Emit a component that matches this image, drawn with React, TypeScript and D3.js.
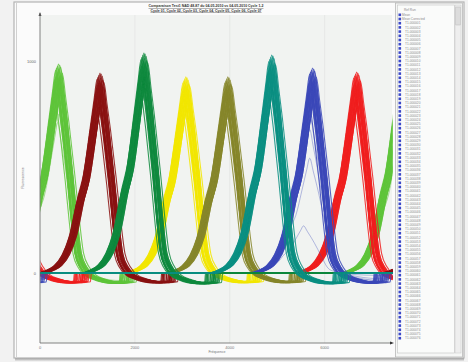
import React from "react";
import * as d3 from "d3";

const SERIES_NAMES = ["Cycle 01", "Cycle 02", "Cycle 03", "Cycle 04", "Cycle 05", "Cycle 06", "Cycle 07", "Cycle 08"];
const SERIES_COLORS = ["#5ec43a", "#8a1212", "#0f8a3e", "#f2e600", "#86862a", "#0b8f82", "#3b48b8", "#f01e1e"];
const PEAK_CENTERS = [390, 1265, 2190, 3075, 3960, 4885, 5745, 6675];
const PEAK_MAX = [986, 943, 1038, 925, 925, 1028, 967, 948];
const PERIOD = 7250;

// normalized peak profile: [offset, fraction of peak]
const PROFILE_LEFT: [number, number][] = [
  [-1263, 0], [-1050, 0.015], [-885, 0.04], [-716, 0.1], [-568, 0.2], [-400, 0.4], [-295, 0.5], [-147, 0.75], [-63, 0.9], [0, 1],
];
const PROFILE_RIGHT: [number, number][] = [
  [63, 0.88], [126, 0.75], [232, 0.5], [316, 0.28], [400, 0.1], [505, 0.03], [632, -0.01], [800, -0.03], [1010, -0.045], [1220, -0.05], [1390, -0.045], [1410, 0],
];

const TRACE_SCALE = [1.0, 0.995, 0.99, 0.985, 0.98, 0.975, 0.97, 0.965, 0.96, 0.955, 0.95, 0.945, 0.94, 0.935, 0.93, 0.925, 0.92, 0.915, 0.91, 0.9, 0.89, 0.88, 0.87, 0.86];
const TRACE_SHIFT = [0, 25, -20, 45, -40, 10, -60, 60, -10, 80, -30, 35, -50, 15, 70, -70, 5, -25, 50, -45, 20, -90, -15, 30];
const TRACE_WIDTH = [1.0, 1.04, 0.97, 1.08, 0.95, 1.02, 1.1, 0.98, 1.06, 1.12, 0.96, 1.03, 1.0, 1.07, 0.99, 1.05, 1.14, 0.97, 1.09, 1.01, 1.04, 1.0, 1.11, 1.06];

// extra thin inner traces per series: [scale, shift, width]
const INNER_TRACES: [number, number, number][][] = [
  [[0.72, -20, 1.1], [0.76, 10, 1.05], [0.8, 0, 1.0]],
  [[0.8, 0, 1.05], [0.83, -20, 1.1]],
  [[0.86, 0, 1.05], [0.89, 15, 1.0]],
  [],
  [[0.8, 0, 1.05], [0.84, -15, 1.1]],
  [[0.8, 0, 1.05], [0.84, 10, 1.1]],
  [[0.75, -40, 1.15], [0.7, -60, 1.2], [0.56, -60, 1.25], [0.23, -190, 1.3]],
  [[0.82, 0, 1.05], [0.86, -10, 1.1]],
];

const X_TICKS = [0, 2000, 4000, 6000];
const Y_TICKS = [0, 1000];
const TITLE_LINES = [
  "Comparaison Test1 NAD 48-87 du 04-05-2010 vs 04-05-2010 Cycle 1-2",
  "Cycle 01, Cycle 02, Cycle 03, Cycle 04, Cycle 05, Cycle 06, Cycle 07",
];
const LEGEND_HEADER = "Ref Run";
const LEGEND_ITEMS = ["Mean", "Mean Corrected", ...Array.from({ length: 76 }, (_, i) => "T1-" + String(i + 1).padStart(6, "0"))];

const W = 468, H = 362;
const PL = 40, PR = 392, PT = 15, PB = 343;

export default function App() {
  const x = d3.scaleLinear().domain([0, 7420]).range([PL, PR]);
  const y = d3.scaleLinear().domain([-330, 1217]).range([PB, PT]);
  const line = d3.line<[number, number]>().x((d) => x(d[0])).y((d) => y(d[1])).curve(d3.curveMonotoneX);

  const buildPath = (i: number, amp: number, shift: number, width: number) => {
    const pts: [number, number][] = [];
    for (const k of [-1, 0, 1]) {
      const c = PEAK_CENTERS[i] + k * PERIOD + shift;
      for (const [o, v] of PROFILE_LEFT) pts.push([c + o, v * amp]);
      for (const [o, v] of PROFILE_RIGHT) pts.push([c + o * width, v * amp]);
    }
    return line(pts) || "";
  };

  const drawOrder = [0, 3, 4, 7, 6, 1, 2, 5];

  return (
    <svg width={W} height={H} style={{ position: "absolute", left: 0, top: 0 }} fontFamily="Liberation Sans, Arial, sans-serif">
      <defs>
        <clipPath id="plotclip">
          <rect x={PL + 0.5} y={PT} width={PR - PL} height={PB - PT} />
        </clipPath>
        <linearGradient id="shadow" x1="0" x2="0" y1="0" y2="1">
          <stop offset="0" stopColor="#999" />
          <stop offset="1" stopColor="#e8e8e8" />
        </linearGradient>
      </defs>
      <rect x={0} y={0} width={W} height={H} fill="#f2f2f2" />
      <rect x={15} y={358} width={449} height={3} fill="url(#shadow)" />
      <rect x={14} y={2} width={450} height={356} fill="#fbfbfb" stroke="#b4b4b4" strokeWidth={1.2} />
      <line x1={16.5} x2={16.5} y1={3} y2={357} stroke="#d0d0d0" />
      <rect x={PL} y={PT} width={PR - PL} height={PB - PT} fill="#f1f3f1" />
      {X_TICKS.slice(1).map((t) => (
        <line key={"gx" + t} x1={x(t)} x2={x(t)} y1={PT} y2={PB} stroke="#e3e5e3" strokeWidth={0.8} />
      ))}
      <g clipPath="url(#plotclip)">
        {drawOrder.map((i) => (
          <g key={i} stroke={SERIES_COLORS[i]} fill="none">
            {TRACE_SCALE.map((s, j) => (
              <path key={j} d={buildPath(i, PEAK_MAX[i] * s, TRACE_SHIFT[j], TRACE_WIDTH[j])} strokeWidth={1.1} strokeOpacity={0.85} />
            ))}
            {INNER_TRACES[i].map(([s, sh, w], j) => (
              <path key={"in" + j} d={buildPath(i, PEAK_MAX[i] * s, sh, w)} strokeWidth={0.6} strokeOpacity={0.6} />
            ))}
          </g>
        ))}
      </g>
      {/* axes */}
      <line x1={PL} x2={PL} y1={PT - 2} y2={PB} stroke="#666" strokeWidth={0.8} />
      <path d={`M${PL - 1.5},${PT + 1} L${PL},${PT - 3} L${PL + 1.5},${PT + 1}Z`} fill="#555" />
      <line x1={PL} x2={PR} y1={PB} y2={PB} stroke="#666" strokeWidth={0.8} />
      <path d={`M${PR - 2},${PB - 1.5} L${PR + 2},${PB} L${PR - 2},${PB + 1.5}Z`} fill="#333" />
      {X_TICKS.map((t) => (
        <text key={"xt" + t} x={x(t)} y={PB + 5.5} fontSize={4} fill="#777" textAnchor="middle">{t}</text>
      ))}
      {Y_TICKS.map((t) => (
        <text key={"yt" + t} x={PL - 4} y={y(t) + 1.5} fontSize={4} fill="#666" textAnchor="end">{t}</text>
      ))}
      <text x={217} y={353} fontSize={3.6} fill="#777" textAnchor="middle">Fréquence</text>
      <text transform="translate(24,178) rotate(-90)" fontSize={3.6} fill="#777" textAnchor="middle">Fluorescence</text>
      {TITLE_LINES.map((t, k) => (
        <text key={"ti" + k} x={206} y={7 + k * 4.5} fontSize={3.5} fill="#333" textAnchor="middle" textDecoration="underline" fontWeight="bold">{t}</text>
      ))}
      {/* legend */}
      <rect x={395.5} y={3} width={67} height={354} fill="#f6f7f6" stroke="#b8b8b8" strokeWidth={0.8} />
      <rect x={397.5} y={5} width={57} height={348} fill="#fafbfa" stroke="#c4c4c4" strokeWidth={0.6} />
      <rect x={455} y={5} width={6} height={348} fill="#eeeeee" stroke="#c8c8c8" strokeWidth={0.5} />
      <rect x={455.8} y={7} width={4.4} height={18} fill="#dcdcdc" stroke="#b0b0b0" strokeWidth={0.4} />
      <text x={404} y={10.5} fontSize={3.2} fill="#888">{LEGEND_HEADER}</text>
      {LEGEND_ITEMS.map((name, k) => {
        const yy = 15 + k * 4.2;
        return (
          <g key={"lg" + k}>
            <rect x={398.5} y={yy - 1.5} width={2.6} height={2.6} fill="#3b48c8" />
            <text x={k < 2 ? 402 : 405} y={yy + 1} fontSize={3.2} fill="#8a8a8a">{name}</text>
          </g>
        );
      })}
    </svg>
  );
}
